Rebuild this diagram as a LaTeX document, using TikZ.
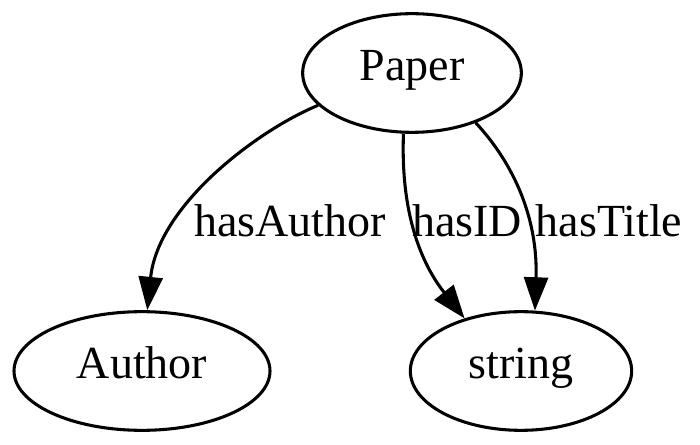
\documentclass[tikz,border=0pt]{standalone}
\usepackage{fontspec}
\setmainfont{Liberation Serif}
\usepackage{tikz}
\usetikzlibrary{shapes.geometric,arrows.meta}

\begin{document}
\begin{tikzpicture}[x=0.75pt, y=-0.75pt, line width=2.3pt,
  every node/.style={font=\fontsize{34.5}{40}\selectfont},
  cls/.style={ellipse, draw, inner sep=0pt, minimum height=89pt, text height=1.1em, text depth=0pt},
  rel/.style={-{Triangle[length=25pt, width=18pt]}}]
  \useasboundingbox (0,0) rectangle (700,445);
  \node [cls, minimum width=164pt] (paper) at (412, 73) {Paper};
  \node [cls, minimum width=192pt] (author) at (142, 371) {Author};
  \node [cls, minimum width=166pt] (string) at (521, 371) {string};
  \node [anchor=base] (hasauthor) at (290, 237) {hasAuthor};
  \node [anchor=base] (hasid) at (467, 237) {hasID};
  \node [anchor=base] (hastitle) at (609, 237) {hasTitle};
  \draw [rel] (paper.199) .. controls (258, 130) and (158, 205) .. (author.85);
  \draw [rel] (paper.262) .. controls (400, 225) and (428, 272) .. (string.137);
  \draw [rel] (paper.322) .. controls (515, 165) and (538, 220) .. (string.77);
\end{tikzpicture}
\end{document}
